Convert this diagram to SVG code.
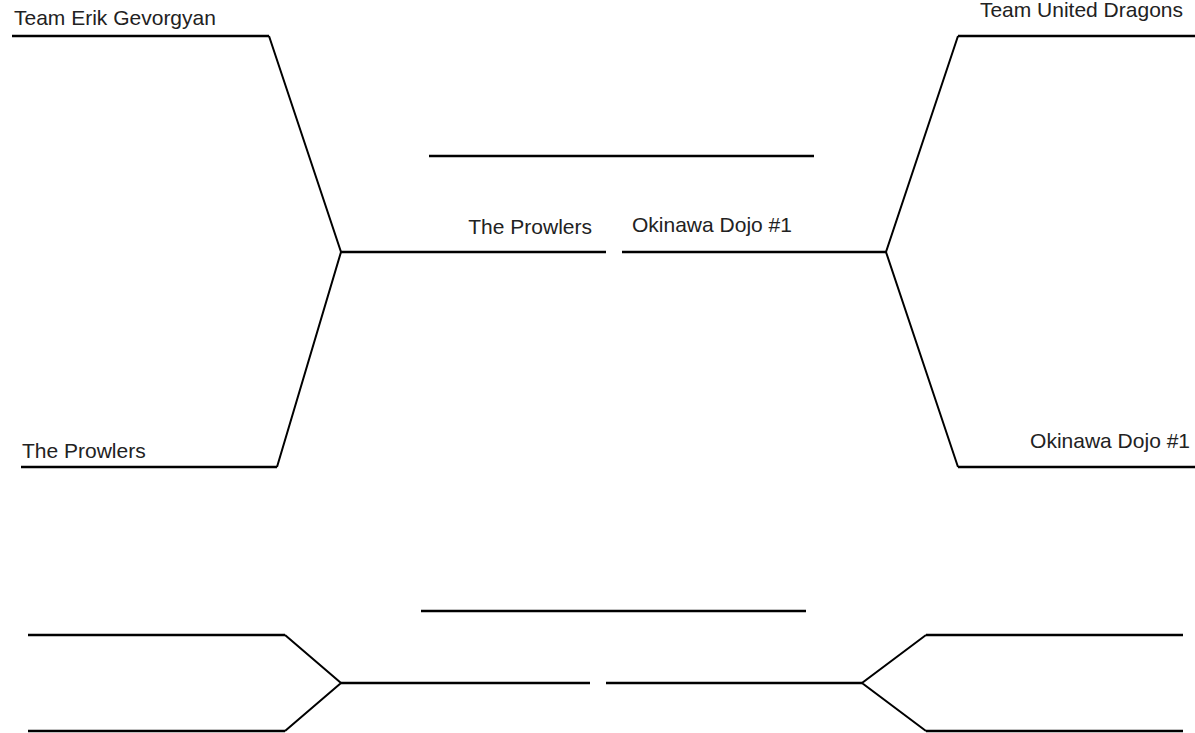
<svg xmlns="http://www.w3.org/2000/svg" width="1195" height="733" viewBox="0 0 1195 733">
  <style>
    .slot { stroke: #000; stroke-width: 2.6; fill: none; }
    .conn { stroke: #000; stroke-width: 2; fill: none; stroke-linejoin: miter; }
    .lbl { font-family: "Liberation Sans", Arial, sans-serif; font-size: 21px; fill: #222; }
  </style>
  <rect width="1195" height="733" fill="#fff"/>
  <g id="slot-top-left">
    <line class="slot" x1="12" y1="36" x2="269" y2="36"/>
    <text class="lbl" x="14" y="25">Team Erik Gevorgyan</text>
  </g>
  <g id="slot-bottom-left">
    <line class="slot" x1="21" y1="467" x2="277" y2="467"/>
    <text class="lbl" x="22" y="458">The Prowlers</text>
  </g>
  <g id="slot-top-right">
    <line class="slot" x1="958" y1="36" x2="1195" y2="36"/>
    <text class="lbl" x="1183" y="17" text-anchor="end">Team United Dragons</text>
  </g>
  <g id="slot-bottom-right">
    <line class="slot" x1="958" y1="467" x2="1195" y2="467"/>
    <text class="lbl" x="1190" y="448" text-anchor="end">Okinawa Dojo #1</text>
  </g>
  <g id="semi-left">
    <line class="slot" x1="341" y1="252" x2="606" y2="252"/>
    <text class="lbl" x="592" y="234" text-anchor="end">The Prowlers</text>
  </g>
  <g id="semi-right">
    <line class="slot" x1="622" y1="252" x2="886" y2="252"/>
    <text class="lbl" x="632" y="232">Okinawa Dojo #1</text>
  </g>
  <g id="champion">
    <line class="slot" x1="429" y1="156" x2="814" y2="156"/>
  </g>
  <g id="b-slot-top-left">
    <line class="slot" x1="28" y1="635" x2="285" y2="635"/>
  </g>
  <g id="b-slot-bottom-left">
    <line class="slot" x1="28" y1="731" x2="285" y2="731"/>
  </g>
  <g id="b-slot-top-right">
    <line class="slot" x1="926" y1="635" x2="1183" y2="635"/>
  </g>
  <g id="b-slot-bottom-right">
    <line class="slot" x1="926" y1="731" x2="1183" y2="731"/>
  </g>
  <g id="b-semi-left">
    <line class="slot" x1="341" y1="683" x2="590" y2="683"/>
  </g>
  <g id="b-semi-right">
    <line class="slot" x1="606" y1="683" x2="862" y2="683"/>
  </g>
  <g id="b-final">
    <line class="slot" x1="421" y1="611" x2="806" y2="611"/>
  </g>
  <g id="connectors">
    <polyline class="conn" points="269,36 341,252 277,467"/>
    <polyline class="conn" points="958,36 886,252 958,467"/>
    <polyline class="conn" points="285,635 341,683 285,731"/>
    <polyline class="conn" points="926,635 862,683 926,731"/>
  </g>
</svg>
